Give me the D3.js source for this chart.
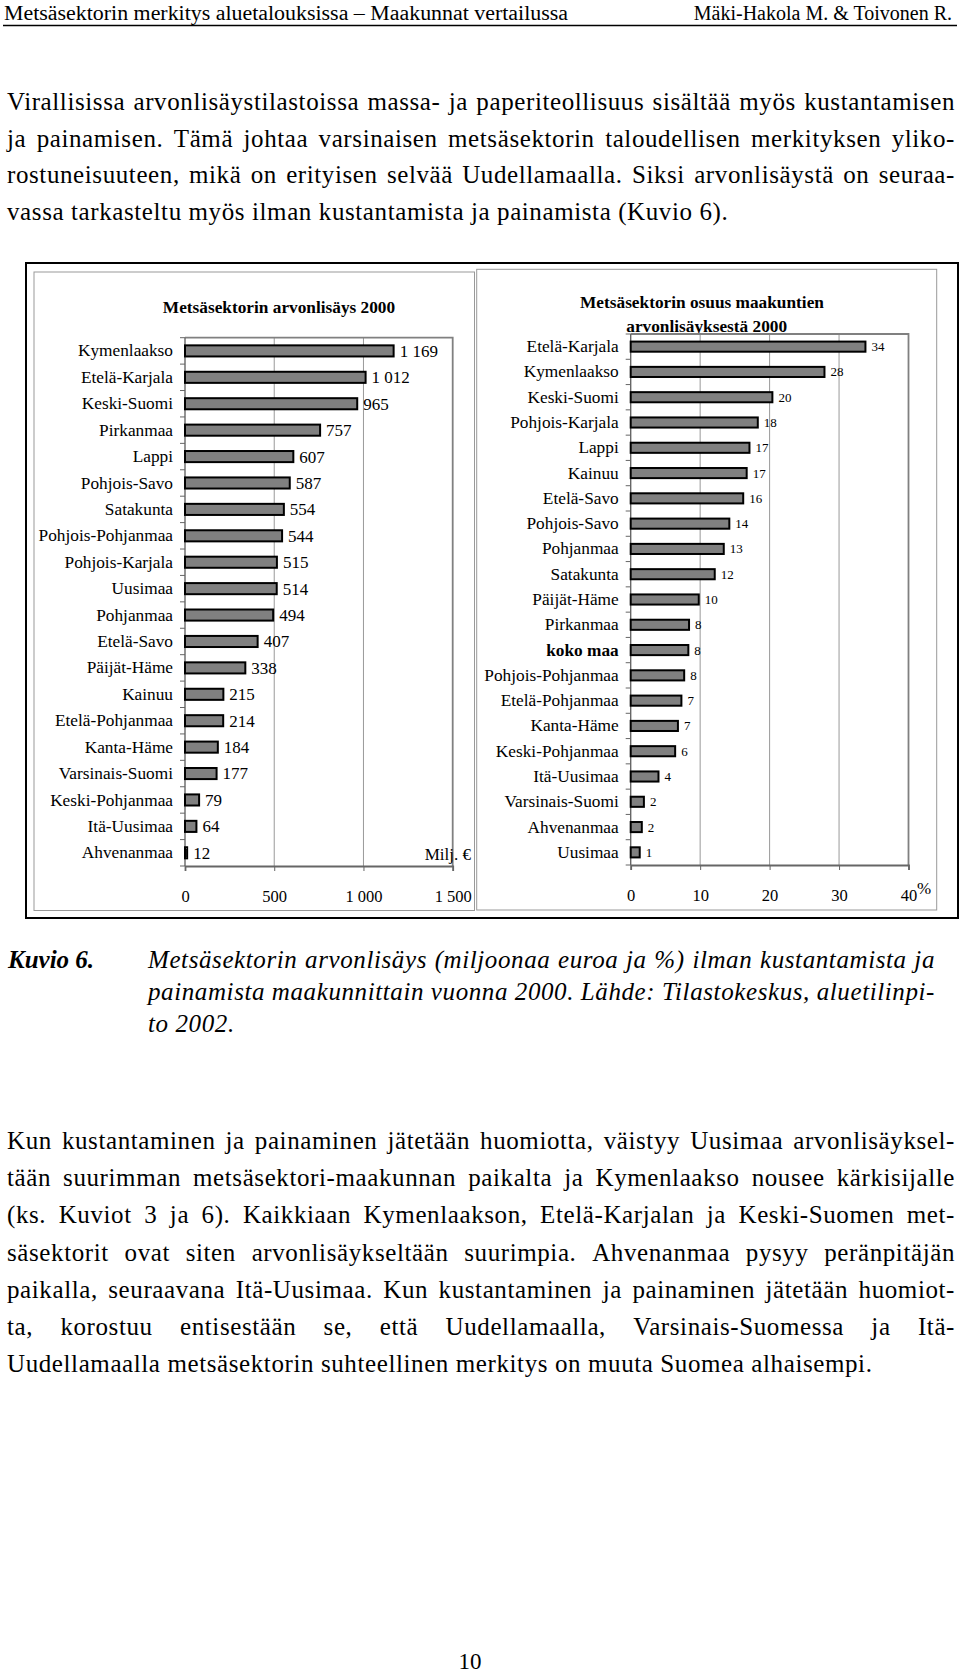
<!DOCTYPE html>
<html>
<head>
<meta charset="utf-8">
<script src="https://cdn.jsdelivr.net/npm/d3@7"></script>
<style>
body { margin: 0; background: #fff; }
svg text { font-family: "Liberation Serif", "Times New Roman", serif; fill: #000; }
</style>
</head>
<body>
<svg id="page" width="960" height="1673"></svg>
<script>
// --- data ---
var regions = ["Kymenlaakso", "Etelä-Karjala", "Keski-Suomi", "Pirkanmaa", "Lappi", "Pohjois-Savo",
  "Satakunta", "Pohjois-Pohjanmaa", "Pohjois-Karjala", "Uusimaa", "Pohjanmaa", "Etelä-Savo",
  "Päijät-Häme", "Kainuu", "Etelä-Pohjanmaa", "Kanta-Häme", "Varsinais-Suomi", "Keski-Pohjanmaa",
  "Itä-Uusimaa", "Ahvenanmaa"];
var values = [1169, 1012, 965, 757, 607, 587, 554, 544, 515, 514, 494, 407, 338, 215, 214, 184, 177, 79, 64, 12];
var valueTicks = [0, 500, 1000, 1500];

var shareRegions = ["Etelä-Karjala", "Kymenlaakso", "Keski-Suomi", "Pohjois-Karjala", "Lappi", "Kainuu",
  "Etelä-Savo", "Pohjois-Savo", "Pohjanmaa", "Satakunta", "Päijät-Häme", "Pirkanmaa", "koko maa",
  "Pohjois-Pohjanmaa", "Etelä-Pohjanmaa", "Kanta-Häme", "Keski-Pohjanmaa", "Itä-Uusimaa",
  "Varsinais-Suomi", "Ahvenanmaa", "Uusimaa"];
var shares = [33.8, 27.9, 20.4, 18.3, 17.1, 16.7, 16.2, 14.2, 13.4, 12.1, 9.8, 8.4, 8.3, 7.7, 7.3, 6.8, 6.4, 4.0, 1.9, 1.6, 1.3];
var shareTicks = [0, 10, 20, 30, 40];

var para1 = [
  "Virallisissa arvonlisäystilastoissa massa- ja paperiteollisuus sisältää myös kustantamisen",
  "ja painamisen. Tämä johtaa varsinaisen metsäsektorin taloudellisen merkityksen yliko-",
  "rostuneisuuteen, mikä on erityisen selvää Uudellamaalla. Siksi arvonlisäystä on seuraa-",
  "vassa tarkasteltu myös ilman kustantamista ja painamista (Kuvio 6)."
];
var caption = [
  "Metsäsektorin arvonlisäys (miljoonaa euroa ja %) ilman kustantamista ja",
  "painamista maakunnittain vuonna 2000. Lähde: Tilastokeskus, aluetilinpi-",
  "to 2002."
];
var para2 = [
  "Kun kustantaminen ja painaminen jätetään huomiotta, väistyy Uusimaa arvonlisäyksel-",
  "tään suurimman metsäsektori-maakunnan paikalta ja Kymenlaakso nousee kärkisijalle",
  "(ks. Kuviot 3 ja 6). Kaikkiaan Kymenlaakson, Etelä-Karjalan ja Keski-Suomen met-",
  "säsektorit ovat siten arvonlisäykseltään suurimpia. Ahvenanmaa pysyy peränpitäjän",
  "paikalla, seuraavana Itä-Uusimaa.  Kun kustantaminen ja painaminen jätetään huomiot-",
  "ta, korostuu entisestään se, että  Uudellamaalla, Varsinais-Suomessa ja Itä-",
  "Uudellamaalla metsäsektorin suhteellinen merkitys on muuta Suomea alhaisempi."
];

var svg = d3.select("#page");
var fi = d3.formatLocale({decimal: ",", thousands: "\u00a0", grouping: [3], currency: ["", ""]});
var fmt = fi.format(",");

// one line of body text; justified lines spread the words between x0 and x1
function textLine(str, x0, x1, y, size, style, justify) {
  var words = str.split(/\s+/);
  var t = svg.append("text").attr("y", y)
    .style("font-size", size + "px").style("letter-spacing", "0.6px");
  if (style) t.style("font-style", style);
  var sp = t.selectAll("tspan").data(words).join("tspan").text(function(d) { return d; });
  var w = sp.nodes().map(function(n) { return n.getComputedTextLength(); });
  var gap = justify ? (x1 - x0 - d3.sum(w)) / (words.length - 1) : size * 0.25 + 0.6;
  var x = x0;
  sp.attr("x", function(d, i) { var v = x; x += w[i] + gap; return v; });
}

var left = 7, right = 955;

// header
svg.append("text").attr("x", 4).attr("y", 20).style("font-size", "20px")
  .attr("textLength", 564).attr("lengthAdjust", "spacingAndGlyphs")
  .text("Metsäsektorin merkitys aluetalouksissa – Maakunnat vertailussa");
svg.append("text").attr("x", 952).attr("y", 20).attr("text-anchor", "end").style("font-size", "20px")
  .text("Mäki-Hakola M. & Toivonen R.");
svg.append("line").attr("x1", 3).attr("x2", 957).attr("y1", 25.5).attr("y2", 25.5)
  .attr("stroke", "#000").attr("stroke-width", 1.6);

para1.forEach(function(s, i) {
  textLine(s, left, right, 110 + i * 36.5, 25, null, i < para1.length - 1);
});

// chart frames
svg.append("rect").attr("x", 26).attr("y", 263).attr("width", 932).attr("height", 655)
  .attr("fill", "#fff").attr("stroke", "#000").attr("stroke-width", 2);
svg.append("rect").attr("x", 34).attr("y", 272).attr("width", 440.5).attr("height", 638.5)
  .attr("fill", "none").attr("stroke", "#999").attr("stroke-width", 1);
svg.append("rect").attr("x", 476.7).attr("y", 269.3).attr("width", 460).attr("height", 640.7)
  .attr("fill", "none").attr("stroke", "#999").attr("stroke-width", 1);

function barChart(o) {
  var g = svg.append("g");
  var x = d3.scaleLinear().domain(o.domain).range([o.x0, o.x1]);
  var y = d3.scaleBand().domain(o.cats).range([o.y0, o.y1])
    .paddingInner(o.pad).paddingOuter(o.pad / 2);

  o.title.forEach(function(s, i) {
    g.append("text").attr("x", o.titleX[i]).attr("y", o.titleY[i]).attr("text-anchor", "middle")
      .style("font-size", "17.3px").style("font-weight", "bold").text(s);
  });

  g.append("rect").attr("x", o.x0).attr("y", o.y0).attr("width", o.x1 - o.x0).attr("height", o.y1 - o.y0)
    .attr("fill", "#fff");

  g.append("g").selectAll("line").data(o.ticks.slice(1, -1)).join("line")
    .attr("x1", x).attr("x2", x).attr("y1", o.y0).attr("y2", o.y1)
    .attr("stroke", "#999").attr("stroke-width", 1);

  g.append("path").attr("d", "M" + o.x0 + "," + o.y0 + "H" + o.x1 + "V" + o.y1)
    .attr("fill", "none").attr("stroke", "#808080").attr("stroke-width", 1.8);

  var xa = g.append("g").attr("transform", "translate(0," + o.y1 + ")")
    .call(d3.axisBottom(x).tickValues(o.ticks).tickSize(5).tickPadding(19).tickFormat(o.tickFmt));
  xa.select(".domain").attr("stroke", "#666").attr("stroke-width", 1.8);
  xa.selectAll(".tick line").attr("stroke", "#666");
  xa.selectAll("text").attr("font-family", null).style("font-size", "16.5px");

  var ya = g.append("g").attr("transform", "translate(" + o.x0 + ",0)")
    .call(d3.axisLeft(y).tickSize(0).tickPadding(12));
  ya.select(".domain").remove();
  ya.selectAll("text").attr("font-family", null).style("font-size", "17.3px")
    .style("font-weight", function(d) { return d === "koko maa" ? "bold" : null; });

  var step = y.step();
  g.append("g").selectAll("line").data(d3.range(o.cats.length + 1)).join("line")
    .attr("x1", o.x0 - 5).attr("x2", o.x0)
    .attr("y1", function(i) { return o.y0 + i * step; })
    .attr("y2", function(i) { return o.y0 + i * step; })
    .attr("stroke", "#666");
  g.append("line").attr("x1", o.x0).attr("x2", o.x0).attr("y1", o.y0).attr("y2", o.y1)
    .attr("stroke", "#666").attr("stroke-width", 1.4);

  g.append("g").selectAll("rect").data(o.vals).join("rect")
    .attr("x", x(0))
    .attr("y", function(d, i) { return y(o.cats[i]); })
    .attr("width", function(d) { return x(d) - x(0); })
    .attr("height", y.bandwidth())
    .attr("fill", "#808080").attr("stroke", "#000").attr("stroke-width", 2);

  g.append("g").selectAll("text").data(o.vals).join("text")
    .attr("x", function(d) { return x(d) + 6; })
    .attr("y", function(d, i) { return y(o.cats[i]) + y.bandwidth() / 2; })
    .attr("dy", "0.35em")
    .style("font-size", o.labelSize + "px")
    .text(o.labelFmt);
  return g;
}

barChart({
  cats: regions, vals: values, domain: [0, 1500], ticks: valueTicks,
  x0: 185, x1: 452.7, y0: 337.7, y1: 866, pad: 0.58,
  title: ["Metsäsektorin arvonlisäys 2000"], titleX: [279], titleY: [313],
  tickFmt: fmt, labelFmt: fmt, labelSize: 17
});
svg.append("text").attr("x", 471).attr("y", 860).attr("text-anchor", "end").style("font-size", "17px")
  .text("Milj. €");

barChart({
  cats: shareRegions, vals: shares, domain: [0, 40], ticks: shareTicks,
  x0: 630.7, x1: 908.5, y0: 334, y1: 865, pad: 0.6,
  title: ["Metsäsektorin osuus maakuntien", "arvonlisäyksestä 2000"], titleX: [702, 706.7], titleY: [307.5, 331.5],
  tickFmt: d3.format("d"), labelFmt: d3.format(".0f"), labelSize: 13
});
svg.append("text").attr("x", 917).attr("y", 894).style("font-size", "17px").text("%");

// caption
svg.append("text").attr("x", 8).attr("y", 968).style("font-size", "25px")
  .style("font-weight", "bold").style("font-style", "italic").text("Kuvio 6.");
caption.forEach(function(s, i) {
  textLine(s, 148, 935, 968 + i * 32, 25, "italic", i < caption.length - 1);
});

para2.forEach(function(s, i) {
  textLine(s, left, right, 1149 + i * 37.2, 25, null, i < para2.length - 1);
});

svg.append("text").attr("x", 470).attr("y", 1669).attr("text-anchor", "middle").style("font-size", "23px")
  .text("10");
</script>
</body>
</html>
